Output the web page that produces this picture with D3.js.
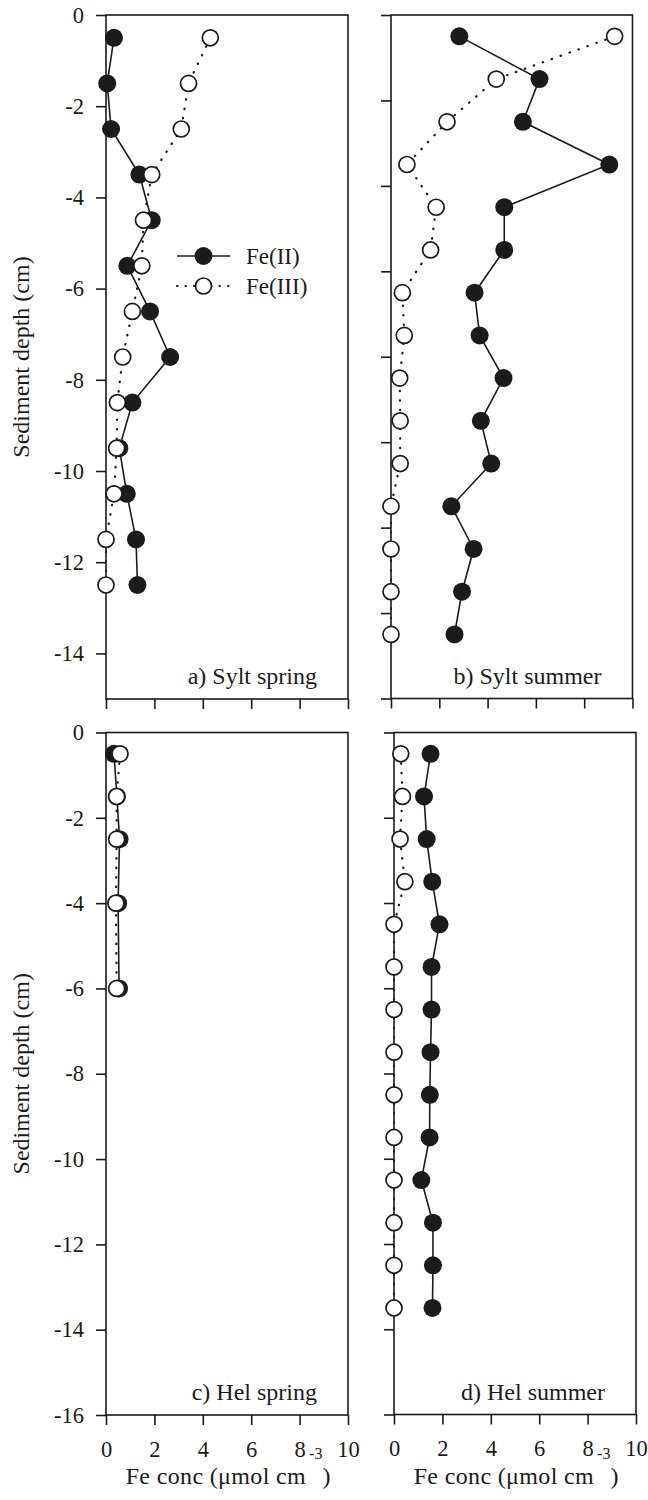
<!DOCTYPE html>
<html>
<head>
<meta charset="utf-8">
<script src="https://cdn.jsdelivr.net/npm/d3@7"></script>
<style>
  html, body { margin: 0; padding: 0; background: #fff; }
  svg { display: block; font-family: "Liberation Serif", "Times New Roman", serif; }
</style>
</head>
<body>
<svg id="chart" width="648" height="1500"></svg>
<script>
// Sediment depth (cm) of each sample
const syltSpringDepth = [-0.5, -1.5, -2.5, -3.5, -4.5, -5.5, -6.5, -7.5, -8.5, -9.5, -10.5, -11.5, -12.5];
const syltSummerDepth = [-0.5, -1.5, -2.5, -3.5, -4.5, -5.5, -6.5, -7.5, -8.5, -9.5, -10.5, -11.5, -12.5, -13.5, -14.5];
const helSpringDepth  = [-0.5, -1.5, -2.5, -4, -6];
const helSummerDepth  = [-0.5, -1.5, -2.5, -3.5, -4.5, -5.5, -6.5, -7.5, -8.5, -9.5, -10.5, -11.5, -12.5, -13.5];

// Fe(II) concentrations (µmol cm-3)
const syltSpringFe2 = [0.33, 0.05, 0.21, 1.38, 1.89, 0.88, 1.82, 2.65, 1.09, 0.55, 0.86, 1.24, 1.30];
const syltSummerFe2 = [2.83, 6.15, 5.46, 9.04, 4.69, 4.69, 3.46, 3.67, 4.66, 3.72, 4.15, 2.50, 3.42, 2.94, 2.63];
const helSpringFe2  = [0.33, 0.45, 0.56, 0.50, 0.54];
const helSummerFe2  = [1.51, 1.24, 1.35, 1.58, 1.88, 1.55, 1.55, 1.51, 1.48, 1.47, 1.13, 1.61, 1.61, 1.59];

// Fe(III) concentrations (µmol cm-3)
const syltSpringFe3 = [4.31, 3.41, 3.11, 1.89, 1.55, 1.48, 1.09, 0.69, 0.47, 0.44, 0.33, 0, 0];
const syltSummerFe3 = [9.26, 4.36, 2.32, 0.66, 1.87, 1.64, 0.47, 0.55, 0.36, 0.38, 0.38, 0, 0, 0, 0];
const helSpringFe3  = [0.58, 0.44, 0.44, 0.41, 0.44];
const helSummerFe3  = [0.28, 0.35, 0.25, 0.45, 0, 0, 0, 0, 0, 0, 0, 0, 0, 0];

// Axis ticks
const concTicks = [0, 2, 4, 6, 8, 10];
const depthTicks15 = [0, -2, -4, -6, -8, -10, -12, -14];
const depthTicks16 = [0, -2, -4, -6, -8, -10, -12, -14, -16];

const panelLabels = ["a) Sylt spring", "b) Sylt summer", "c) Hel spring", "d) Hel summer"];
const seriesNames = ["Fe(II)", "Fe(III)"];
const yTitle = "Sediment depth (cm)";

const INK = "#1b1b1b";

const panels = [
  { label: panelLabels[0], depth: syltSpringDepth, fe2: syltSpringFe2, fe3: syltSpringFe3,
    yMin: -15, yTicks: depthTicks15, box: [106, 348, 15, 699], yLab: true, xLab: false, legend: true },
  { label: panelLabels[1], depth: syltSummerDepth, fe2: syltSummerFe2, fe3: syltSummerFe3,
    yMin: -16, yTicks: depthTicks16, box: [391, 632.5, 15, 698.5], yLab: false, xLab: false, legend: false },
  { label: panelLabels[2], depth: helSpringDepth, fe2: helSpringFe2, fe3: helSpringFe3,
    yMin: -16, yTicks: depthTicks16, box: [106, 348, 732.5, 1415], yLab: true, xLab: true, legend: false },
  { label: panelLabels[3], depth: helSummerDepth, fe2: helSummerFe2, fe3: helSummerFe3,
    yMin: -16, yTicks: depthTicks16, box: [394, 636, 732.5, 1414.5], yLab: false, xLab: true, legend: false }
];

const svg = d3.select("#chart");

function styleAxis(g) {
  g.select(".domain").remove();
  g.selectAll(".tick line").attr("stroke", INK).attr("stroke-width", 1.6);
  g.selectAll(".tick text").attr("fill", INK).attr("font-size", 22.5)
    .attr("font-family", "'Liberation Serif', 'Times New Roman', serif");
}

panels.forEach(p => {
  const [x0, x1, y0, y1] = p.box;
  const x = d3.scaleLinear().domain([0, 10]).range([x0, x1]);
  const y = d3.scaleLinear().domain([0, p.yMin]).range([y0, y1]);
  const g = svg.append("g");

  // frame
  g.append("rect")
    .attr("x", x0).attr("y", y0)
    .attr("width", x1 - x0).attr("height", y1 - y0)
    .attr("fill", "none").attr("stroke", INK).attr("stroke-width", 1.6);

  // axes
  g.append("g")
    .attr("transform", `translate(${x0},0)`)
    .call(d3.axisLeft(y).tickValues(p.yTicks).tickSize(10).tickPadding(12)
      .tickFormat(d => p.yLab ? String(d) : ""))
    .call(styleAxis);

  g.append("g")
    .attr("transform", `translate(0,${y1})`)
    .call(d3.axisBottom(x).tickValues(concTicks).tickSize(10).tickPadding(16)
      .tickFormat(d => p.xLab ? String(d) : ""))
    .call(styleAxis);

  const fe2Pts = p.depth.map((d, i) => [p.fe2[i], d]);
  const fe3Pts = p.depth.map((d, i) => [p.fe3[i], d]);
  const line = d3.line().x(d => x(d[0])).y(d => y(d[1]));

  // Fe(III) dotted profile
  g.append("path").datum(fe3Pts)
    .attr("d", line).attr("fill", "none")
    .attr("stroke", INK).attr("stroke-width", 2.2)
    .attr("stroke-linecap", "round")
    .attr("stroke-dasharray", "0.5 9");

  // Fe(II) solid profile
  g.append("path").datum(fe2Pts)
    .attr("d", line).attr("fill", "none")
    .attr("stroke", INK).attr("stroke-width", 1.6);

  // Fe(II) filled markers
  g.selectAll(".fe2").data(fe2Pts).join("circle")
    .attr("class", "fe2")
    .attr("cx", d => x(d[0])).attr("cy", d => y(d[1]))
    .attr("r", 9).attr("fill", INK);

  // Fe(III) open markers
  g.selectAll(".fe3").data(fe3Pts).join("circle")
    .attr("class", "fe3")
    .attr("cx", d => x(d[0])).attr("cy", d => y(d[1]))
    .attr("r", 8).attr("fill", "#fff")
    .attr("stroke", INK).attr("stroke-width", 1.7);

  // panel label
  g.append("text")
    .attr("x", x1 - 31).attr("y", y1 - 15)
    .attr("text-anchor", "end")
    .attr("font-size", 24).attr("fill", INK)
    .text(p.label);

  // y title
  if (p.yLab) {
    g.append("text")
      .attr("transform", `translate(29,${(y0 + y1) / 2}) rotate(-90)`)
      .attr("text-anchor", "middle")
      .attr("font-size", 24).attr("fill", INK)
      .text(yTitle);
  }

  // x title with superscript exponent
  if (p.xLab) {
    const t = g.append("text")
      .attr("x", (x0 + x1) / 2 + 1).attr("y", 1484)
      .attr("text-anchor", "middle")
      .attr("font-size", 24).attr("fill", INK);
    t.append("tspan").attr("letter-spacing", 0.35).text("Fe conc (μmol cm");
    t.append("tspan").attr("dx", 3).attr("dy", -25).attr("font-size", 16).text("-3");
    t.append("tspan").attr("dy", 25).text(")");
  }

  // legend
  if (p.legend) {
    const lx0 = 177, lx1 = 230, cx = 203.5;
    const rows = [
      { name: seriesNames[0], cy: 256, filled: true },
      { name: seriesNames[1], cy: 286, filled: false }
    ];
    rows.forEach(r => {
      g.append("line")
        .attr("x1", lx0).attr("x2", lx1).attr("y1", r.cy).attr("y2", r.cy)
        .attr("stroke", INK)
        .attr("stroke-width", r.filled ? 1.6 : 2.2)
        .attr("stroke-linecap", r.filled ? "butt" : "round")
        .attr("stroke-dasharray", r.filled ? null : "0.5 8");
      g.append("circle")
        .attr("cx", cx).attr("cy", r.cy)
        .attr("r", r.filled ? 9 : 8)
        .attr("fill", r.filled ? INK : "#fff")
        .attr("stroke", r.filled ? "none" : INK)
        .attr("stroke-width", 1.7);
      g.append("text")
        .attr("x", 246).attr("y", r.cy + 7.5)
        .attr("font-size", 23).attr("fill", INK)
        .text(r.name);
    });
  }
});
</script>
</body>
</html>
